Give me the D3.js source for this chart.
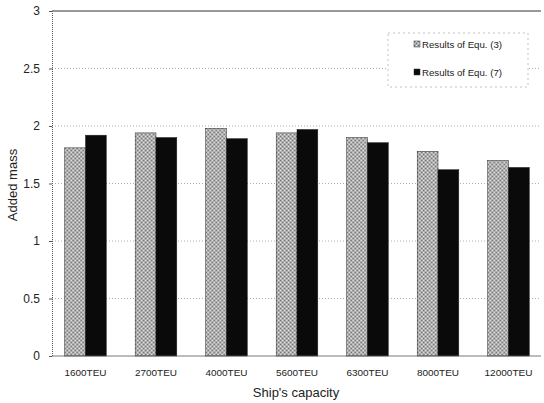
<!DOCTYPE html>
<html>
<head>
<meta charset="utf-8">
<script src="https://cdn.jsdelivr.net/npm/d3@7"></script>
<style>
  body { margin: 0; background: #fff; }
  text { font-family: "Liberation Sans", Arial, sans-serif; }
</style>
</head>
<body>
<div id="chart"></div>
<script>
// data
const categories = ["1600TEU", "2700TEU", "4000TEU", "5600TEU", "6300TEU", "8000TEU", "12000TEU"];
const seriesNames = ["Results of Equ. (3)", "Results of Equ. (7)"];
const equ3 = [1.81, 1.94, 1.98, 1.94, 1.90, 1.78, 1.70];
const equ7 = [1.92, 1.90, 1.89, 1.97, 1.855, 1.62, 1.64];
const yTicks = [0, 0.5, 1, 1.5, 2, 2.5, 3];

const width = 544, height = 403;
const plotLeft = 52, plotRight = 541, plotTop = 11, plotBottom = 356;

const svg = d3.select("#chart").append("svg")
    .attr("width", width)
    .attr("height", height);

// grey texture for the Equ. (3) bars
const defs = svg.append("defs");
const pat = defs.append("pattern")
    .attr("id", "grey")
    .attr("width", 4).attr("height", 4)
    .attr("patternUnits", "userSpaceOnUse");
pat.append("rect").attr("width", 4).attr("height", 4).attr("fill", "#b0b0b0");
pat.append("rect").attr("width", 1).attr("height", 1).attr("fill", "#666");
pat.append("rect").attr("x", 2).attr("y", 2).attr("width", 1).attr("height", 1).attr("fill", "#666");
pat.append("rect").attr("x", 2).attr("y", 0).attr("width", 1).attr("height", 1).attr("fill", "#e8e8e8");
pat.append("rect").attr("x", 0).attr("y", 2).attr("width", 1).attr("height", 1).attr("fill", "#e8e8e8");

const x = d3.scaleBand()
    .domain(categories)
    .range([plotLeft, 542])
    .paddingInner(0.41)
    .paddingOuter(0.18);

const xs = d3.scaleBand()
    .domain(seriesNames)
    .range([0, x.bandwidth()]);

const y = d3.scaleLinear()
    .domain([0, 3])
    .range([plotBottom, plotTop]);

// grid lines
svg.append("g")
    .selectAll("line")
    .data(yTicks.filter(d => d > 0 && d < 3))
    .join("line")
    .attr("x1", plotLeft).attr("x2", plotRight)
    .attr("y1", d => y(d)).attr("y2", d => y(d))
    .attr("stroke", "#999")
    .attr("stroke-width", 0.8)
    .attr("stroke-dasharray", "1,2");

// top border
svg.append("line")
    .attr("x1", plotLeft).attr("x2", plotRight)
    .attr("y1", y(3)).attr("y2", y(3))
    .attr("stroke", "#333").attr("stroke-width", 1.2);

// bars
const rows = categories.map((c, i) => ({ cat: c, vals: [equ3[i], equ7[i]] }));
const groups = svg.append("g")
    .selectAll("g")
    .data(rows)
    .join("g")
    .attr("transform", d => `translate(${x(d.cat)},0)`);

groups.selectAll("rect")
    .data(d => d.vals.map((v, k) => ({ name: seriesNames[k], v: v })))
    .join("rect")
    .attr("x", d => xs(d.name))
    .attr("y", d => y(d.v))
    .attr("width", xs.bandwidth())
    .attr("height", d => y(0) - y(d.v))
    .attr("fill", d => d.name === seriesNames[0] ? "url(#grey)" : "#0a0a0a")
    .attr("stroke", "#222")
    .attr("stroke-width", 0.5);

// y axis
const yAxis = svg.append("g")
    .attr("transform", `translate(${plotLeft},0)`)
    .call(d3.axisLeft(y).tickValues(yTicks).tickSize(3).tickFormat(d3.format("")));
yAxis.select(".domain").attr("stroke", "#555").attr("stroke-dasharray", "1,1");
yAxis.selectAll(".tick line").attr("stroke", "#555");
yAxis.selectAll(".tick text")
    .attr("x", -12)
    .attr("font-size", 12)
    .attr("fill", "#222");

// x axis line
svg.append("line")
    .attr("x1", plotLeft).attr("x2", plotRight)
    .attr("y1", plotBottom).attr("y2", plotBottom)
    .attr("stroke", "#555").attr("stroke-width", 0.8);

// x labels
const xAxis = svg.append("g")
    .attr("transform", `translate(0,${plotBottom})`)
    .call(d3.axisBottom(x).tickSize(0));
xAxis.select(".domain").remove();
xAxis.selectAll(".tick text")
    .attr("dy", 0)
    .attr("y", 20)
    .attr("font-size", 9.5)
    .attr("textLength", d => d.length * 6)
    .attr("lengthAdjust", "spacingAndGlyphs")
    .attr("fill", "#222");

// axis titles
svg.append("text")
    .attr("x", 296).attr("y", 397)
    .attr("text-anchor", "middle")
    .attr("font-size", 13)
    .attr("fill", "#222")
    .text("Ship's capacity");

svg.append("text")
    .attr("transform", "translate(17,185) rotate(-90)")
    .attr("text-anchor", "middle")
    .attr("font-size", 13)
    .attr("fill", "#222")
    .text("Added mass");

// legend
const legend = svg.append("g").attr("transform", "translate(388,33)");
legend.append("rect")
    .attr("width", 140).attr("height", 54)
    .attr("fill", "#fff")
    .attr("stroke", "#aaa")
    .attr("stroke-width", 0.7)
    .attr("stroke-dasharray", "2,3");
const items = legend.selectAll("g.item")
    .data(seriesNames)
    .join("g")
    .attr("class", "item")
    .attr("transform", (d, i) => `translate(26,${8 + i * 28})`);
items.append("rect")
    .attr("width", 6).attr("height", 6)
    .attr("fill", (d, i) => i === 0 ? "url(#grey)" : "#0a0a0a")
    .attr("stroke", "#333").attr("stroke-width", 0.5);
items.append("text")
    .attr("x", 8).attr("y", 6.5)
    .attr("font-size", 9)
    .attr("textLength", 80)
    .attr("lengthAdjust", "spacingAndGlyphs")
    .attr("fill", "#222")
    .text(d => d);

console.log("chart drawn");
</script>
</body>
</html>
